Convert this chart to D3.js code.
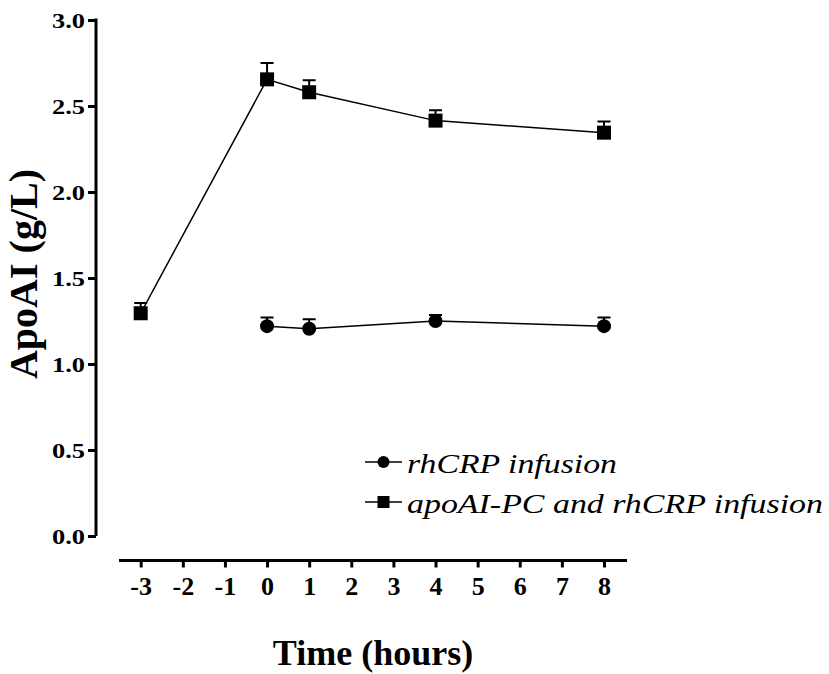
<!DOCTYPE html>
<html>
<head>
<meta charset="utf-8">
<script src="https://cdn.jsdelivr.net/npm/d3@7"></script>
<style>
  body { margin: 0; background: #fff; }
  svg text { font-family: "Liberation Serif", "Times New Roman", serif; }
</style>
</head>
<body>
<div id="chart"></div>
<script>
// data
var hoursCircle = [0, 1, 4, 8]
var rhCRP = [1.22, 1.205, 1.25, 1.22]
var rhCRPerr = [0.05, 0.055, 0.035, 0.05]

var hoursSquare = [-3, 0, 1, 4, 8]
var apoAI = [1.295, 2.655, 2.58, 2.415, 2.345]
var apoAIerr = [0.06, 0.095, 0.07, 0.06, 0.065]

var xTicks = [-3, -2, -1, 0, 1, 2, 3, 4, 5, 6, 7, 8]
var yTicks = [0, 0.5, 1.0, 1.5, 2.0, 2.5, 3.0]
var legendLabels = ["rhCRP infusion", "apoAI-PC and rhCRP infusion"]

var width = 829, height = 674

const svg = d3.select("#chart")
  .append("svg")
    .attr("width", width)
    .attr("height", height)

// scales
const x = d3.scaleLinear().domain([-3, 8]).range([140.7, 604])
const y = d3.scaleLinear().domain([0, 3]).range([536, 20])

// y axis
const yAxis = svg.append("g")
  .attr("transform", "translate(96,0)")
  .call(d3.axisLeft(y).tickValues(yTicks).tickFormat(d3.format(".1f")).tickSize(8).tickSizeOuter(0))
yAxis.select(".domain").attr("stroke-width", 3).attr("d", "M0,18.5V536")
yAxis.selectAll(".tick line").attr("stroke-width", 3)
// the original labels are stretched sideways, so force their width
yAxis.selectAll(".tick text")
  .attr("x", -11)
  .attr("dy", "0.34em")
  .attr("textLength", 33)
  .attr("lengthAdjust", "spacingAndGlyphs")
  .style("font-size", "22px")
  .style("font-weight", "bold")
  .style("font-family", "Liberation Serif, serif")
  .attr("fill", "#000")

// x axis (drawn offset below the plot)
const xAxis = svg.append("g")
  .attr("transform", "translate(0,560.5)")
  .call(d3.axisBottom(x).tickValues(xTicks).tickFormat(d => String(d)).tickSize(7).tickSizeOuter(0))
xAxis.select(".domain").attr("stroke-width", 3).attr("d", "M119,0H627")
xAxis.selectAll(".tick line").attr("stroke-width", 3)
xAxis.selectAll(".tick text")
  .attr("y", 16)
  .style("font-size", "26px")
  .style("font-weight", "bold")
  .style("font-family", "Liberation Serif, serif")
  .attr("fill", "#000")

// axis titles
svg.append("text")
  .attr("transform", "translate(37,274) rotate(-90)")
  .attr("text-anchor", "middle")
  .style("font-size", "40px")
  .style("font-weight", "bold")
  .text("ApoAI (g/L)")

svg.append("text")
  .attr("x", 373)
  .attr("y", 665)
  .attr("text-anchor", "middle")
  .style("font-size", "36px")
  .style("font-weight", "bold")
  .text("Time (hours)")

// series
const line = d3.line()

function drawSeries(xs, ys, errs, shape) {
  var pts = xs.map((d, i) => ({x: d, y: ys[i], e: errs[i]}))
  var g = svg.append("g")

  g.append("path")
    .attr("d", line(pts.map(p => [x(p.x), y(p.y)])))
    .attr("fill", "none")
    .attr("stroke", "#000")
    .attr("stroke-width", 1.5)

  // upward error bars only
  g.selectAll(".err")
    .data(pts)
    .join("path")
      .attr("d", p => "M" + x(p.x) + "," + y(p.y) + "V" + y(p.y + p.e) + "M" + (x(p.x) - 6.5) + "," + y(p.y + p.e) + "H" + (x(p.x) + 6.5))
      .attr("stroke", "#000")
      .attr("stroke-width", 2)
      .attr("fill", "none")

  if (shape == "circle") {
    g.selectAll("circle")
      .data(pts)
      .join("circle")
        .attr("cx", p => x(p.x))
        .attr("cy", p => y(p.y))
        .attr("r", 7)
        .attr("fill", "#000")
  } else {
    g.selectAll("rect")
      .data(pts)
      .join("rect")
        .attr("x", p => x(p.x) - 7)
        .attr("y", p => y(p.y) - 7)
        .attr("width", 14)
        .attr("height", 14)
        .attr("fill", "#000")
  }
}

drawSeries(hoursCircle, rhCRP, rhCRPerr, "circle")
drawSeries(hoursSquare, apoAI, apoAIerr, "square")

// legend
const legendWidths = [210, 416]
const legend = svg.append("g")
legendLabels.forEach((lab, i) => {
  var ly = 462 + i * 40
  legend.append("line")
    .attr("x1", 365).attr("x2", 402)
    .attr("y1", ly).attr("y2", ly)
    .attr("stroke", "#000").attr("stroke-width", 1.5)
  if (i == 0) {
    legend.append("circle").attr("cx", 383.5).attr("cy", ly).attr("r", 6).attr("fill", "#000")
  } else {
    legend.append("rect").attr("x", 377.5).attr("y", ly - 6).attr("width", 12).attr("height", 12).attr("fill", "#000")
  }
  legend.append("text")
    .attr("x", 407)
    .attr("y", ly + 11)
    .attr("textLength", legendWidths[i])
    .attr("lengthAdjust", "spacingAndGlyphs")
    .style("font-size", "28px")
    .style("font-style", "italic")
    .text(lab)
})
</script>
</body>
</html>
